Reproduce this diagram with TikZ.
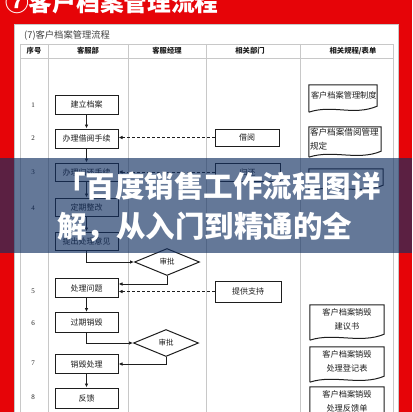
\documentclass[tikz,border=0pt]{standalone}
\usepackage{fontspec}
\setmainfont{Liberation Serif}
\newfontfamily\cjk{Noto Sans CJK SC}
\usetikzlibrary{shapes.geometric,arrows.meta}
\definecolor{bgred}{RGB}{230,4,8}
\definecolor{bandblue}{RGB}{18,48,98}
\definecolor{gridc}{RGB}{200,200,200}
\definecolor{ink}{RGB}{30,30,30}
\newcommand\docwave[1]{%
  \draw[docline] ([yshift=-6pt]#1.south west) -- (#1.north west) -- (#1.north east) -- (#1.south east)
    .. controls ([xshift=-24pt,yshift=-10pt]#1.south east) and ([xshift=24pt,yshift=2pt]#1.south west)
    .. ([yshift=-6pt]#1.south west);}
\begin{document}
\begin{tikzpicture}[x=1pt,y=-1pt,
  box/.style={draw=ink, line width=1pt, minimum width=63pt, minimum height=19pt, inner sep=0pt,
    font=\cjk\fontsize{8}{9}\selectfont, text=ink},
  dbox/.style={diamond, draw=ink, line width=1pt, inner sep=0pt, minimum width=65pt, minimum height=27pt,
    font=\cjk\fontsize{7.5}{9}\selectfont, text=ink},
  docnode/.style={inner sep=1pt, font=\cjk\fontsize{8.2}{14}\selectfont, text=ink},
  docline/.style={draw=ink, line width=1pt},
  arr/.style={-{Latex[length=4pt,width=3.5pt]}, line width=0.8pt, draw=ink},
  darr/.style={arr, dash pattern=on 3pt off 2pt},
  hdr/.style={font=\cjk\bfseries\fontsize{7.3}{9}\selectfont, text=ink, inner sep=0pt},
  num/.style={font=\fontsize{7}{8}\selectfont, text=ink, inner sep=0pt},
  gridline/.style={draw=gridc, line width=0.6pt},
]
\useasboundingbox (0,0) rectangle (412,412);
\fill[bgred] (0,0) rectangle (412,412);
\filldraw[fill=white, draw=gridc, line width=0.8pt] (14,24) rectangle (398,420);
\node[anchor=base west, text=white, font=\cjk\bfseries\fontsize{23.7}{26}\selectfont, inner sep=0pt] (title) at (5,12) {⑦客户档案管理流程};
\node[anchor=west, font=\cjk\fontsize{9.3}{10}\selectfont, text=ink!85, inner sep=0pt] (cap) at (24,35) {(7)客户档案管理流程};
% grid
\draw[gridline] (20,44) -- (393,44) (20,58) -- (393,58);
\foreach \xx in {20,48,128,206,300,393} \draw[gridline] (\xx,44) -- (\xx,412);
% headers
\node[hdr] (h1) at (34,51) {序号};
\node[hdr] (h2) at (88,51) {客服部};
\node[hdr] (h3) at (167,51) {客服经理};
\node[hdr] (h4) at (250,51) {相关部门};
\node[hdr] (h5) at (353,51) {相关规程/表单};
% row numbers
\node[num] (n1) at (33,105) {1};
\node[num] (n2) at (33,138) {2};
\node[num] (n3) at (33,172) {3};
\node[num] (n4) at (33,208) {4};
\node[num] (n5) at (33,291) {5};
\node[num] (n6) at (33,323) {6};
\node[num] (n7) at (33,363) {7};
\node[num] (n8) at (33,397) {8};
% main column
\node[box] (b1) at (86.5,104.5) {建立档案};
\node[box] (b2) at (86.5,138.5) {办理借阅手续};
\node[box, minimum height=18pt] (b3) at (86.5,172) {办理归还手续};
\node[box, minimum height=18pt] (b4) at (86.5,207) {定期整改};
\node[box, minimum height=18pt] (b4b) at (86.5,241) {提出处理意见};
\node[box] (b5) at (86.5,288) {处理问题};
\node[box, minimum height=20pt] (b6) at (86.5,322.5) {过期销毁};
\node[box] (b7) at (86.5,364) {销毁处理};
\node[box, minimum height=20pt] (b8) at (86.5,398) {反馈};
% diamonds
\node[dbox] (d1) at (167,262) {审批};
\node[dbox] (d2) at (166,343) {审批};
% related departments
\node[box, minimum width=64pt, minimum height=17pt] (jy) at (247,137.5) {借阅};
\node[box, minimum width=65pt, minimum height=18pt] (gh) at (247.5,172) {归还};
\node[box, minimum width=66pt, minimum height=21pt] (tg) at (248,291.5) {提供支持};
% documents
\node[docnode, minimum width=68pt, minimum height=21pt, text width=64pt, align=left] (r1) at (343,95.5) {客户档案管理制度};
\docwave{r1}
\node[docnode, minimum width=72pt, minimum height=24pt, text width=70pt, align=left, font=\cjk\fontsize{8.6}{14}\selectfont] (r2) at (345,139) {客户档案借阅管理\\规定};
\docwave{r2}
\node[docnode, minimum width=74pt, minimum height=16pt] (r3) at (346,177) {};
\docwave{r3}
\node[docnode, minimum width=74pt, minimum height=29pt, align=center] (r4) at (347,319.5) {客户档案销毁\\建议书};
\docwave{r4}
\node[docnode, minimum width=74pt, minimum height=29pt, align=center] (r5) at (347,361.5) {客户档案销毁\\处理登记表};
\docwave{r5}
\node[docnode, minimum width=74pt, minimum height=29pt, align=center] (r6) at (347,401.5) {客户档案销毁\\处理反馈单};
\docwave{r6}
% connectors
\draw[arr] (b1) -- (b2);
\draw[arr] (b2) -- (b3);
\draw[arr] (b3) -- (b4);
\draw[arr] (b4) -- (b4b);
\draw[arr] (b4b.south) |- (d1.west);
\draw[arr] (d1.south) |- ([yshift=4pt]b5.east);
\draw[darr] (tg.west) -- (tg.west -| b5.east);
\draw[darr] (jy.west) -- (jy.west -| b2.east);
\draw[darr] (gh.west) -- (gh.west -| b3.east);
\draw[arr] (b5) -- (b6);
\draw[arr] (b6.south) |- (d2.west);
\draw[arr] (d2.south) |- (b7.east);
\draw[arr] (b7) -- (b8);
% overlay band
\fill[bandblue, fill opacity=0.65] (0,158) rectangle (412,253);
\node[anchor=west, inner sep=0pt, text=white, font=\cjk\bfseries\fontsize{29.5}{34}\selectfont] (bt1) at (56,186) {「百度销售工作流程图详};
\node[anchor=west, inner sep=0pt, text=white, font=\cjk\bfseries\fontsize{29.5}{34}\selectfont] (bt2) at (57,227) {解，从入门到精通的全};
\end{tikzpicture}
\end{document}
